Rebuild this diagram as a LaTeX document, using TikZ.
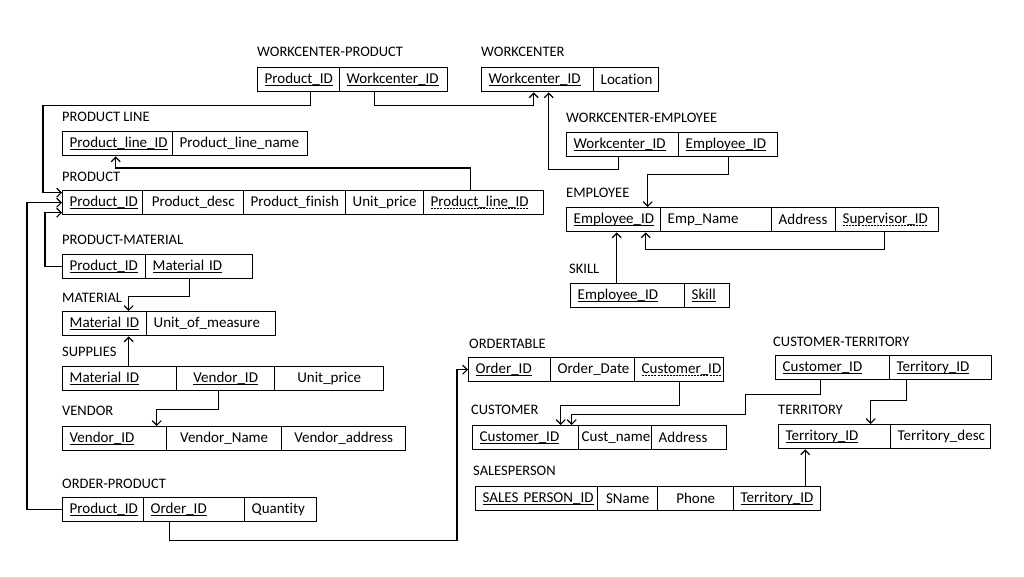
\documentclass[tikz,border=0pt]{standalone}
\usepackage{fontspec}
\setmainfont{Carlito}[Ligatures=NoCommon]
\usepackage{tikz}
\usetikzlibrary{arrows.meta,calc}
\newcommand{\tabfont}{\fontsize{15}{17}\selectfont}
\newcommand{\lblfont}{\fontsize{14.5}{17}\selectfont}
\newsavebox{\ulbox}
\newcommand{\keyul}[1]{\sbox{\ulbox}{#1}\rlap{\rule[-2.2pt]{\wd\ulbox}{0.9pt}}\usebox{\ulbox}}
\newcommand{\fkul}[1]{\sbox{\ulbox}{#1}\rlap{\hbox to \wd\ulbox{\xleaders\hbox to 3pt{\hss\rule[-2.2pt]{2pt}{0.8pt}\hss}\hfil}}\usebox{\ulbox}}
\tikzset{
  cell/.style={draw, line width=1.4pt, anchor=north west, minimum height=24pt,
    inner xsep=7pt, inner ysep=0pt, text width=#1pt-14pt, align=left, font=\tabfont},
  lbl/.style={anchor=base west, inner sep=0pt, font=\lblfont},
  link/.style={line width=1.2pt}
}

\begin{document}
\begin{tikzpicture}[x=1pt, y=-1pt, >={Straight Barb[length=4.5pt,width=9pt]}]
  \useasboundingbox (0,0) rectangle (1024,576);

  \node[lbl] (wpL) at (257,56) {WORKCENTER-PRODUCT};
  \node[cell=82] (wp1) at (257,67) {\keyul{Product\_ID}};
  \node[cell=108] (wp2) at (339,67) {\keyul{Workcenter\_ID}};

  \node[lbl] (wcL) at (481,56) {WORKCENTER};
  \node[cell=112] (wc1) at (481,67) {\keyul{Workcenter\_ID}};
  \node[cell=65] (wc2) at (593,67) {Location};

  \node[lbl] (plL) at (62,121) {PRODUCT LINE};
  \node[cell=110] (pl1) at (62,131) {\keyul{Product\_line\_ID}};
  \node[cell=135] (pl2) at (172,131) {Product\_line\_name};

  \node[lbl] (prodL) at (62,181) {PRODUCT};
  \node[cell=80] (prod1) at (62,190) {\keyul{Product\_ID}};
  \node[cell=101, align=center] (prod2) at (142,190) {Product\_desc};
  \node[cell=102] (prod3) at (243,190) {Product\_finish};
  \node[cell=78] (prod4) at (345,190) {Unit\_price};
  \node[cell=120] (prod5) at (423,190) {\fkul{Product\_line\_ID}};

  \node[lbl] (pmL) at (62,244) {PRODUCT-MATERIAL};
  \node[cell=83] (pm1) at (62,254) {\keyul{Product\_ID}};
  \node[cell=107] (pm2) at (145,254) {\keyul{Material ID}};

  \node[lbl] (matL) at (62,302) {MATERIAL};
  \node[cell=84] (mat1) at (62,311) {\keyul{Material ID}};
  \node[cell=129] (mat2) at (146,311) {Unit\_of\_measure};

  \node[lbl] (supL) at (62,356) {SUPPLIES};
  \node[cell=114] (sup1) at (62,366) {\keyul{Material ID}};
  \node[cell=98, align=center] (sup2) at (176,366) {\keyul{Vendor\_ID}};
  \node[cell=109, align=center] (sup3) at (274,366) {Unit\_price};

  \node[lbl] (venL) at (62,415) {VENDOR};
  \node[cell=104] (ven1) at (62,426) {\keyul{Vendor\_ID}};
  \node[cell=115, align=center] (ven2) at (166,426) {Vendor\_Name};
  \node[cell=124, align=center] (ven3) at (281,426) {Vendor\_address};

  \node[lbl] (opL) at (62,488) {ORDER-PRODUCT};
  \node[cell=81] (op1) at (62,497) {\keyul{Product\_ID}};
  \node[cell=101] (op2) at (143,497) {\keyul{Order\_ID}};
  \node[cell=72] (op3) at (244,497) {Quantity};

  \node[lbl] (weL) at (566,122) {WORKCENTER-EMPLOYEE};
  \node[cell=112] (we1) at (566,132) {\keyul{Workcenter\_ID}};
  \node[cell=99] (we2) at (678,132) {\keyul{Employee\_ID}};

  \node[lbl] (empL) at (566,197) {EMPLOYEE};
  \node[cell=94] (emp1) at (566,207) {\keyul{Employee\_ID}};
  \node[cell=111] (emp2) at (660,207) {Emp\_Name};
  \node[cell=64] (emp3) at (771,207) {Address};
  \node[cell=103] (emp4) at (835,207) {\fkul{Supervisor\_ID}};

  \node[lbl] (skL) at (569,273) {SKILL};
  \node[cell=114] (sk1) at (570,283) {\keyul{Employee\_ID}};
  \node[cell=45] (sk2) at (684,283) {\keyul{Skill}};

  \node[lbl] (ordL) at (469,348) {ORDERTABLE};
  \node[cell=82] (ord1) at (468,357) {\keyul{Order\_ID}};
  \node[cell=84] (ord2) at (550,357) {Order\_Date};
  \node[cell=89] (ord3) at (634,357) {\fkul{Customer\_ID}};

  \node[lbl] (cusL) at (471,414) {CUSTOMER};
  \node[cell=106] (cus1) at (472,425) {\keyul{Customer\_ID}};
  \node[cell=73] (cus2) at (578,425) {\hspace*{-4pt}Cust\_name};
  \node[cell=75] (cus3) at (651,425) {Address};

  \node[lbl] (ctL) at (773,346) {CUSTOMER-TERRITORY};
  \node[cell=114] (ct1) at (775,355) {\keyul{Customer\_ID}};
  \node[cell=102] (ct2) at (889,355) {\keyul{Territory\_ID}};

  \node[lbl] (terL) at (778,414) {TERRITORY};
  \node[cell=112] (ter1) at (778,424) {\keyul{Territory\_ID}};
  \node[cell=100] (ter2) at (890,424) {Territory\_desc};

  \node[lbl] (spL) at (473,475) {SALESPERSON};
  \node[cell=122] (sp1) at (475,486) {\keyul{SALES PERSON\_ID}};
  \node[cell=60, align=center] (sp2) at (597,486) {SName};
  \node[cell=76, align=center] (sp3) at (657,486) {Phone};
  \node[cell=87] (sp4) at (733,486) {\keyul{Territory\_ID}};

  \draw[link,->] ([xshift=12pt]wp1.south) -- ++(0,13) -| ($(prod1.west)+(-19,-10)$) -- ++(19,0);
  \draw[link,->] (op1.west) -- ++(-35,0) |- (prod1.west);
  \draw[link,->] (pm1.west) -- ++(-17,0) |- ($(prod1.west)+(0,10)$);
  \draw[link,->] ([xshift=-19pt]wp2.south) -- ++(0,13) -| ([xshift=-4pt]wc1.south);
  \draw[link,->] ([xshift=-4pt]we1.south) -- ++(0,12) -| ([xshift=11pt]wc1.south);
  \draw[link,->] ([xshift=-13pt]prod5.north) -- ++(0,-22) -| ([xshift=-2pt]pl1.south);
  \draw[link,->] (we2.south) -- ++(0,17) -| ([xshift=34pt]emp1.north);
  \draw[link,->] ([xshift=-3pt]emp4.south) -- ++(0,17) -| ([xshift=32pt]emp1.south);
  \draw[link,->] ([xshift=-11pt]sk1.north) -- ([xshift=-11pt]sk1.north |- emp1.south);
  \draw[link,->] ([xshift=-10pt]pm2.south) -- ++(0,17) -| ([xshift=24pt]mat1.north);
  \draw[link,->] ([xshift=9pt]sup1.north) -- ([xshift=9pt]sup1.north |- mat1.south);
  \draw[link,->] ([xshift=-7pt]sup2.south) -- ++(0,18) -| ([xshift=42pt]ven1.north);
  \draw[link,->] ([xshift=-25pt]op2.south) -- ++(0,18) -| ($(ord1.west)+(-11,0)$) -- (ord1.west);
  \draw[link,->] (ord3.south) -- ++(0,23) -| ([xshift=35pt]cus1.north);
  \draw[link,->] ([xshift=-12pt]ct1.south) -- ++(0,14) -| ++(-75,20) -| ([xshift=46pt]cus1.north);
  \draw[link,->] ([xshift=-34pt]ct2.south) -- ++(0,20) -| ([xshift=36pt]ter1.north);
  \draw[link,->] ([xshift=28pt]sp4.north) -- ([xshift=28pt]sp4.north |- ter1.south);
\end{tikzpicture}
\end{document}
